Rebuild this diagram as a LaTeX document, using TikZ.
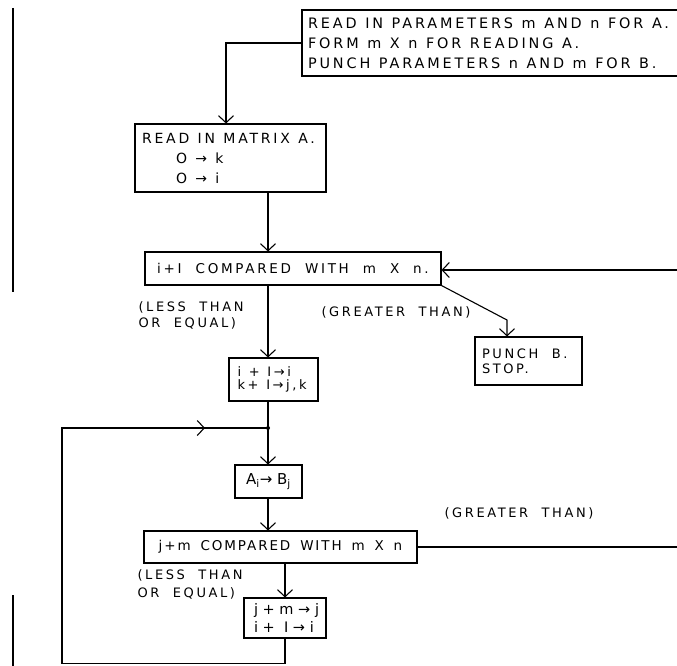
\documentclass[tikz,border=0pt]{standalone}
\usepackage{fontspec}
\setmainfont{DejaVu Sans}[LetterSpace=20, WordSpace=2]
\newfontfamily\plainletters{DejaVu Sans}[LetterSpace=20, WordSpace=1.15]
\newfontfamily\tightletters{DejaVu Sans}[LetterSpace=14, WordSpace=1.6]
\newfontfamily\looseletters{DejaVu Sans}[LetterSpace=32, WordSpace=1]
\usetikzlibrary{arrows.meta,decorations.markings}

% left-flush line of given width inside a box
\newcommand{\padline}[2]{\makebox[#1][l]{#2}}

\begin{document}
\begin{tikzpicture}[
  % pixel-like units, y grows downwards
  x=1pt, y=-1pt,
  line width=1.1pt,
  % --- box and arrow styling
  box/.style={draw, inner sep=0pt, align=left, font=\fontsize{13.5}{19}\selectfont},
  smallbox/.style={box, font=\plainletters\fontsize{13}{12.5}\selectfont},
  flow/.style={-{Straight Barb[length=7pt,width=15pt,line width=1.1pt]}},
  note/.style={inner sep=0pt, align=left, font=\fontsize{13}{16}\selectfont},
]
\useasboundingbox (0,0) rectangle (677,666);
\clip (0,0) rectangle (677,666);

%========================
% Boxes
%========================
\node[box, minimum width=382pt, minimum height=66pt,
      font=\plainletters\fontsize{14.4}{20}\selectfont] (params) at (493,43)
  {\padline{370pt}{READ IN PARAMETERS m AND n FOR A.}\\
   FORM m X n FOR READING A.\\
   PUNCH PARAMETERS n AND m FOR B.};

\node[box, minimum width=191pt, minimum height=68pt,
      font=\plainletters\fontsize{14}{20}\selectfont] (readA) at (230.5,158)
  {\padline{177pt}{READ IN MATRIX A.}\\
   \hspace*{34pt}O → k\\
   \hspace*{34pt}O → i};

\node[box, minimum width=296pt, minimum height=33pt] (cmpI) at (293,268.5)
  {i+I COMPARED WITH m X n.};

\node[smallbox, minimum width=89pt, minimum height=43pt] (incr) at (273.5,379.5)
  {\padline{78pt}{\hspace*{3pt}i + I→i}\\ \hspace*{3pt}k+ I→j,k};

\node[box, minimum width=107pt, minimum height=48pt,
      font=\fontsize{13}{15}\selectfont] (punch) at (528.5,361)
  {\padline{93pt}{PUNCH B.}\\ STOP.};

\node[smallbox, minimum width=67pt, minimum height=33pt,
      font=\looseletters\fontsize{15}{16}\selectfont] (copy) at (268.5,481.5)
  {A\textsubscript{i}→B\textsubscript{j}};

\node[box, minimum width=273pt, minimum height=32pt,
      font=\tightletters\fontsize{13.5}{16}\selectfont] (cmpJ) at (280.5,547)
  {j+m COMPARED WITH m X n};

\node[smallbox, minimum width=82pt, minimum height=40pt,
      font=\looseletters\fontsize{14.5}{18}\selectfont] (advance) at (285,618)
  {\padline{62pt}{j+m→j}\\ i+ I→i};

%========================
% Branch labels
%========================
\node[note, anchor=north west] (leI) at (138,301) {(LESS THAN\\OR EQUAL)};
\node[note] (gtI) at (396,312) {(GREATER THAN)};
\node[note, anchor=north west, font=\fontsize{13}{18}\selectfont]
  (leJ) at (137,569) {(LESS THAN\\OR EQUAL)};
\node[note] (gtJ) at (519,513) {(GREATER THAN)};

%========================
% Connectors
%========================
\coordinate (spine) at (268,0);
\coordinate (junct) at (268,428);
\coordinate (bend) at (507,320);
\coordinate (backI) at (677,270);
\coordinate (outJ) at (677,547);

\draw[flow] (params.west) -| ([xshift=-4.5pt]readA.north);
\draw[flow] (readA.south -| spine) -- (cmpI.north -| spine);
\draw[flow] (cmpI.south -| spine) -- (incr.north -| spine);
\draw (incr.south -| spine) -- (junct);
\fill (junct) circle (2pt);
\draw[flow] (junct) -- (copy.north -| spine);
\draw[flow] (copy.south -| spine) -- (cmpJ.north -| spine);
\draw[flow] (cmpJ.south -| advance) -- (advance.north);
\draw[flow] (cmpI.south east) -- (bend) -- (bend |- punch.north);
\draw[flow] (backI) -- (backI -| cmpI.east);
\draw (cmpJ.east) -- (outJ);

% loop back from j+m -> j
\draw[postaction={decorate}, decoration={markings,
      mark=at position -63pt with {\arrow{Straight Barb[length=7pt,width=15pt,line width=1.1pt]}}}]
  (advance.south) -- ++(0,25) -| (62,428) -- (junct);

% margin rules
\draw (13,8) -- (13,292);
\draw (13,595) -- (13,666);

\end{tikzpicture}
\end{document}
